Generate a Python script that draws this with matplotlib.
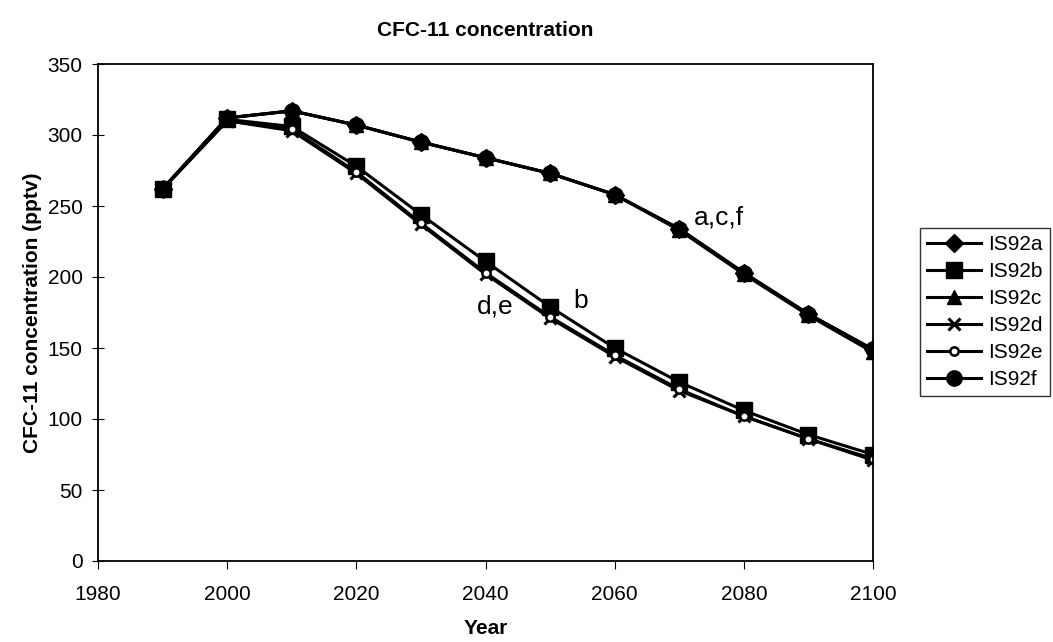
import matplotlib.pyplot as plt

plt.rcParams['font.family'] = ['Liberation Sans', 'DejaVu Sans']

years = [1990, 2000, 2010, 2020, 2030, 2040, 2050, 2060, 2070, 2080, 2090, 2100]

# concentrations (pptv)
is92a = [262, 312, 317, 307, 295, 284, 273, 258, 234, 203, 174, 149]
is92b = [262, 311, 306, 278, 244, 211, 179, 150, 126, 106, 89, 75]
is92c = [262, 312, 317, 307, 295, 284, 273, 258, 233, 202, 173, 147]
is92d = [262, 310, 303, 273, 237, 202, 171, 144, 120, 102, 86, 71]
is92e = [262, 310, 304, 274, 238, 203, 172, 145, 121, 102, 86, 72]
is92f = [262, 312, 317, 307, 295, 284, 273, 258, 234, 203, 174, 149]

series = [
    ("IS92a", is92a, "D", "black", 9, 1.0),
    ("IS92b", is92b, "s", "black", 11, 1.0),
    ("IS92c", is92c, "^", "black", 10, 1.0),
    ("IS92d", is92d, "x", "black", 8, 2.2),
    ("IS92e", is92e, "o", "white", 6, 1.8),
    ("IS92f", is92f, "o", "black", 11, 1.0),
]

fig = plt.figure(figsize=(10.53, 6.42), dpi=100)
ax = fig.add_axes([98/1053, 1 - 561/642, (873-98)/1053, (561-64)/642])

for name, vals, mk, fc, ms, mew in series:
    ax.plot(years, vals, color="black", lw=2.2, marker=mk, markersize=ms,
            markerfacecolor=fc, markeredgecolor="black", markeredgewidth=mew,
            label=name)

ax.set_xlim(1980, 2100)
ax.set_ylim(0, 350)
ax.set_xticks(range(1980, 2101, 20))
ax.set_yticks(range(0, 351, 50))
ax.tick_params(axis='x', direction='out', length=6, labelsize=15, pad=11)
ax.tick_params(axis='y', direction='inout', length=8, labelsize=15, pad=7)
for s in ax.spines.values():
    s.set_linewidth(1.3)

ax.set_title("CFC-11 concentration", fontsize=15, fontweight='bold', pad=20)
ax.set_xlabel("Year", fontsize=15, fontweight='bold', labelpad=11)
ax.set_ylabel("CFC-11 concentration (pptv)", fontsize=15, fontweight='bold', labelpad=4)

ax.text(2072.2, 242, "a,c,f", fontsize=19, va='center', ha='left')
ax.text(2053.6, 183, "b", fontsize=19, va='center', ha='left')
ax.text(2038.7, 179, "d,e", fontsize=19, va='center', ha='left')

leg = ax.legend(loc='upper left', bbox_to_anchor=(920/1053, 1 - 228/642),
                bbox_transform=fig.transFigure, frameon=True, fancybox=False,
                edgecolor='black', fontsize=15, handlelength=2.6, labelspacing=0.38,
                borderpad=0.35, handletextpad=0.3, borderaxespad=0)
leg.get_frame().set_linewidth(1.0)

fig.savefig("out.png", dpi=100)
